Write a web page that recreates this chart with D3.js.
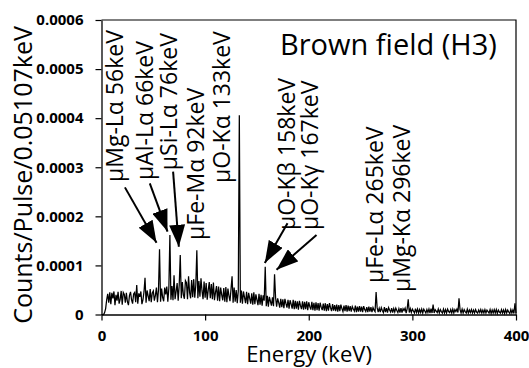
<!DOCTYPE html>
<html>
<head>
<meta charset="utf-8">
<script src="https://cdn.jsdelivr.net/npm/d3@7"></script>
<style>
  html, body { margin: 0; padding: 0; background: #fff; }
  svg { display: block; }
  text { font-family: "Open Sans", sans-serif; fill: #000; }
</style>
</head>
<body>
<svg id="chart" width="529" height="368"></svg>
<script>
// ---------- DATA ----------
// Energy bins (keV), 1 keV sampling of the spectrum
const energies = d3.range(0, 401);
// Counts/Pulse/0.05107keV, in units of 1e-6
const countsMicro = [
  0,0,0,4,12,30,42,24,45,21,
  44,33,47,19,40,28,46,22,31,48,
  20,45,41,24,44,26,19,39,46,30,
  22,42,45,25,60,22,43,36,47,21,
  30,46,75,24,49,38,27,52,25,44,
  48,28,39,55,25,50,133,26,53,35,
  27,55,41,57,26,54,162,30,58,29,
  80,31,47,64,28,60,121,33,66,40,
  32,69,65,31,78,45,33,70,35,72,
  34,60,131,33,68,36,74,48,31,67,
  34,64,30,50,66,33,62,31,65,29,
  45,58,28,57,27,55,40,29,54,26,
  56,25,53,38,27,52,78,24,55,26,
  50,23,48,406,24,49,22,47,35,23,
  46,21,44,33,22,43,20,45,21,41,
  30,19,42,20,40,18,39,28,97,17,
  38,16,36,27,18,35,17,82,34,16,
  33,24,14,32,15,31,13,32,22,14,
  30,12,29,21,12,30,11,28,12,27,
  10,28,18,11,27,10,26,11,27,9,
  25,16,10,26,9,24,8,25,9,23,
  8,24,15,9,22,8,23,7,21,8,
  23,14,7,21,8,19,7,20,6,19,
  7,20,12,6,18,7,19,6,18,7,
  17,6,16,11,7,18,5,16,6,17,
  6,16,5,17,10,6,15,5,16,6,
  15,5,14,9,6,46,14,5,13,5,
  14,8,4,15,5,13,4,14,9,5,
  13,4,12,5,13,8,4,12,4,13,
  4,12,8,13,3,12,31,4,12,4,
  11,7,3,12,4,11,3,10,4,11,
  3,11,7,3,10,4,11,3,12,3,
  20,3,10,7,4,11,3,10,6,3,
  11,3,10,3,11,6,4,10,3,11,
  3,10,6,11,4,33,10,3,11,3,
  10,6,3,11,3,9,4,10,3,9,
  3,10,5,3,9,4,10,3,9,3,
  10,3,9,6,3,10,2,9,3,10,
  3,10,2,9,5,3,10,3,9,2,
  10,3,9,5,2,10,3,9,2,23,
  3
];
const xTicks = [0, 100, 200, 300, 400];
const xTickLabels = ["0", "100", "200", "300", "400"];
const yTicks = [0, 0.0001, 0.0002, 0.0003, 0.0004, 0.0005, 0.0006];
const yTickLabels = ["0", "0.0001", "0.0002", "0.0003", "0.0004", "0.0005", "0.0006"];

// Peak labels: text anchored at (energy, value) = start of rotated text
const peakLabels = ["μMg-Lα 56keV", "μAl-Lα 66keV", "μSi-Lα 76keV", "μFe-Mα 92keV",
  "μO-Kα 133keV", "μO-Kβ 158keV", "μO-Kγ 167keV", "μFe-Lα 265keV", "μMg-Kα 296keV"];
const labelEnergy = [20.8, 50.0, 72.7, 98.7, 123.8, 187.1, 208.8, 271.5, 297.6];
const labelValue = [0.000270, 0.000274, 0.000294, 0.000152, 0.000268, 0.000172, 0.000172, 0.000064, 0.000046];

// Arrows: from (fromE, fromV) to tip (toE, toV)
const arrowFromE = [22.6, 46.6, 69.1, 179.5, 207.5];
const arrowFromV = [0.000259, 0.000267, 0.000291, 0.000186, 0.000162];
const arrowToE = [53.1, 63.7, 74.6, 157.6, 168.9];
const arrowToV = [0.000146, 0.000169, 0.000138, 0.000105, 0.000091];

const chartTitle = "Brown field (H3)";
const xTitle = "Energy (keV)";
const yTitle = "Counts/Pulse/0.05107keV";

// ---------- LAYOUT ----------
const plot = { left: 101.5, top: 20, right: 516, bottom: 314.5 };
const svg = d3.select("#chart");

const x = d3.scaleLinear().domain([0, 400]).range([plot.left, plot.right]);
const y = d3.scaleLinear().domain([0, 0.0006]).range([plot.bottom, plot.top]);

const counts = countsMicro.map(v => v * 1e-6);
const series = energies.map((e, i) => ({ e, v: counts[i] }));

// frame (top + right)
svg.append("path")
  .attr("d", `M${plot.left},${plot.top}H${plot.right}V${plot.bottom}`)
  .attr("fill", "none").attr("stroke", "#000").attr("stroke-width", 1.2);

// spectrum
svg.append("path")
  .datum(series)
  .attr("fill", "none")
  .attr("stroke", "#000")
  .attr("stroke-width", 1.25)
  .attr("d", d3.line().x(d => x(d.e)).y(d => y(d.v)));

// axes
const xAxis = d3.axisBottom(x).tickValues(xTicks)
  .tickFormat((d, i) => xTickLabels[i]).tickSize(6).tickSizeOuter(0).tickPadding(10);
const yAxis = d3.axisLeft(y).tickValues(yTicks)
  .tickFormat((d, i) => yTickLabels[i]).tickSize(6).tickSizeOuter(0).tickPadding(12);

const gx = svg.append("g").attr("transform", `translate(0,${plot.bottom})`).call(xAxis);
const gy = svg.append("g").attr("transform", `translate(${plot.left},0)`).call(yAxis);
[gx, gy].forEach(g => {
  g.select(".domain").attr("stroke", "#000").attr("stroke-width", 1.3);
  g.selectAll(".tick line").attr("stroke", "#000").attr("stroke-width", 1.2);
  g.selectAll(".tick text").style("font-family", '"Open Sans", sans-serif')
    .style("font-size", "15px").style("font-weight", "bold").attr("fill", "#000");
});

// axis titles
svg.append("text").attr("x", 309).attr("y", 362).attr("text-anchor", "middle")
  .style("font-size", "22px").text(xTitle);
svg.append("text").attr("transform", "translate(32,175) rotate(-90)")
  .attr("text-anchor", "middle").style("font-size", "25px").text(yTitle);

// chart title
svg.append("text").attr("x", 280).attr("y", 55).style("font-size", "29px").text(chartTitle);

// peak labels
svg.append("g").selectAll("text").data(peakLabels).join("text")
  .attr("transform", (d, i) => `translate(${x(labelEnergy[i])},${y(labelValue[i])}) rotate(-90)`)
  .attr("text-anchor", "start")
  .style("font-size", "23px")
  .text(d => d);

// arrows
const defs = svg.append("defs");
defs.append("marker").attr("id", "ah")
  .attr("markerUnits", "userSpaceOnUse")
  .attr("viewBox", "0 0 22 16").attr("refX", 22).attr("refY", 8)
  .attr("markerWidth", 22).attr("markerHeight", 16).attr("orient", "auto")
  .append("path").attr("d", "M0,0L22,8L0,16Z").attr("fill", "#000");

svg.append("g").selectAll("line").data(arrowFromE).join("line")
  .attr("x1", (d, i) => x(arrowFromE[i])).attr("y1", (d, i) => y(arrowFromV[i]))
  .attr("x2", (d, i) => x(arrowToE[i])).attr("y2", (d, i) => y(arrowToV[i]))
  .attr("stroke", "#000").attr("stroke-width", 2)
  .attr("marker-end", "url(#ah)");
</script>
</body>
</html>
